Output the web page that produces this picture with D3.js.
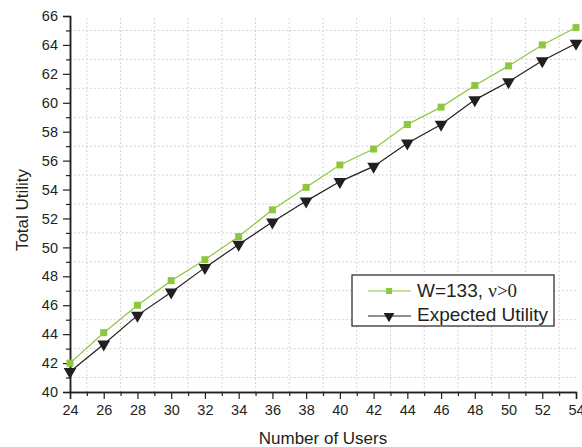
<!DOCTYPE html>
<html>
<head>
<meta charset="utf-8">
<script src="https://cdn.jsdelivr.net/npm/d3@7"></script>
<style>
body { margin: 0; background: #fff; }
text { font-family: "Liberation Sans", Arial, sans-serif; fill: #231f20; }
</style>
</head>
<body>
<svg id="chart"></svg>
<script>
var users = [24, 26, 28, 30, 32, 34, 36, 38, 40, 42, 44, 46, 48, 50, 52, 54];
var w133 = [42.0, 44.1, 46.0, 47.7, 49.15, 50.75, 52.6, 54.15, 55.7, 56.8, 58.5, 59.7, 61.2, 62.55, 64.0, 65.2];
var expected = [41.4, 43.3, 45.3, 46.9, 48.6, 50.2, 51.75, 53.2, 54.55, 55.6, 57.2, 58.5, 60.2, 61.45, 62.9, 64.1];
var xTicks = d3.range(24, 55, 2);
var yTicks = d3.range(40, 67, 2);

var W = 582, H = 447;
var m = {left: 70, right: 6, top: 16, bottom: 55};
var svg = d3.select("#chart").attr("width", W).attr("height", H);

var x = d3.scaleLinear().domain([24, 54]).range([m.left, W - m.right]);
var y = d3.scaleLinear().domain([40, 66]).range([H - m.bottom, m.top]);

var ink = "#231f20", green = "#8dc63f";

// dotted grid at the minor (odd) values
var grid = svg.append("g").attr("stroke", "#c8c8c8").attr("stroke-dasharray", "1.5,2.5").attr("stroke-width", 1);
d3.range(25, 54, 2).forEach(function(v) {
  grid.append("line").attr("x1", x(v)).attr("x2", x(v)).attr("y1", y(40)).attr("y2", y(66));
});
d3.range(41, 66, 2).forEach(function(v) {
  grid.append("line").attr("x1", x(24)).attr("x2", x(54)).attr("y1", y(v)).attr("y2", y(v));
});

// axes
svg.append("g").attr("transform", "translate(0," + y(40) + ")")
  .call(d3.axisBottom(x).tickValues(xTicks).tickFormat(d3.format("d")).tickSize(7).tickPadding(6));
svg.append("g").attr("transform", "translate(0," + y(40) + ")")
  .call(d3.axisBottom(x).tickValues(d3.range(25, 54, 2)).tickFormat("").tickSize(4).tickSizeOuter(0));
svg.append("g").attr("transform", "translate(" + x(24) + ",0)")
  .call(d3.axisLeft(y).tickValues(yTicks).tickFormat(d3.format("d")).tickSize(7).tickPadding(5));
svg.append("g").attr("transform", "translate(" + x(24) + ",0)")
  .call(d3.axisLeft(y).tickValues(d3.range(41, 66, 2)).tickFormat("").tickSize(4).tickSizeOuter(0));
svg.selectAll(".domain").attr("stroke", ink).attr("stroke-width", 1.5);
svg.selectAll(".tick line").attr("stroke", ink).attr("stroke-width", 1.2);
svg.selectAll(".tick text").style("font-size", "14.5px").attr("fill", ink);

svg.append("text").attr("x", (x(24) + x(54)) / 2).attr("y", 444).attr("text-anchor", "middle")
  .style("font-size", "17px").text("Number of Users");
svg.append("text").attr("transform", "translate(28,210) rotate(-90)")
  .attr("text-anchor", "middle").style("font-size", "17px").text("Total Utility");

var line = d3.line().x(function(d, i) { return x(users[i]); }).y(function(d) { return y(d); });

svg.append("path").datum(w133).attr("d", line).attr("fill", "none").attr("stroke", green).attr("stroke-width", 1.2);
svg.append("path").datum(expected).attr("d", line).attr("fill", "none").attr("stroke", ink).attr("stroke-width", 1.2);

var sq = d3.symbol().type(d3.symbolSquare).size(49);
var tri = d3.symbol().type(d3.symbolTriangle).size(70);

svg.append("g").selectAll("path").data(w133).join("path")
  .attr("d", sq).attr("fill", green)
  .attr("transform", function(d, i) { return "translate(" + x(users[i]) + "," + y(d) + ")"; });
svg.append("g").selectAll("path").data(expected).join("path")
  .attr("d", tri).attr("fill", ink)
  .attr("transform", function(d, i) { return "translate(" + x(users[i]) + "," + y(d) + ") rotate(180)"; });

// legend
var lg = svg.append("g").attr("transform", "translate(352,275)");
lg.append("rect").attr("width", 202).attr("height", 51).attr("fill", "#fff").attr("stroke", ink).attr("stroke-width", 1.2);
lg.append("line").attr("x1", 16).attr("x2", 59).attr("y1", 16).attr("y2", 16).attr("stroke", green).attr("stroke-width", 1.2);
lg.append("path").attr("d", d3.symbol().type(d3.symbolSquare).size(36)).attr("fill", green).attr("transform", "translate(37,16)");
lg.append("line").attr("x1", 16).attr("x2", 59).attr("y1", 41).attr("y2", 41).attr("stroke", ink).attr("stroke-width", 1.2);
lg.append("path").attr("d", d3.symbol().type(d3.symbolTriangle).size(50)).attr("fill", ink).attr("transform", "translate(37,41) rotate(180)");
var t1 = lg.append("text").attr("x", 65).attr("y", 22).style("font-size", "19px");
t1.append("tspan").text("W=133, ");
t1.append("tspan").style("font-family", "'Liberation Serif', 'Times New Roman', serif").text("ν>0");
lg.append("text").attr("x", 65).attr("y", 46).style("font-size", "19px").text("Expected Utility");
</script>
</body>
</html>
